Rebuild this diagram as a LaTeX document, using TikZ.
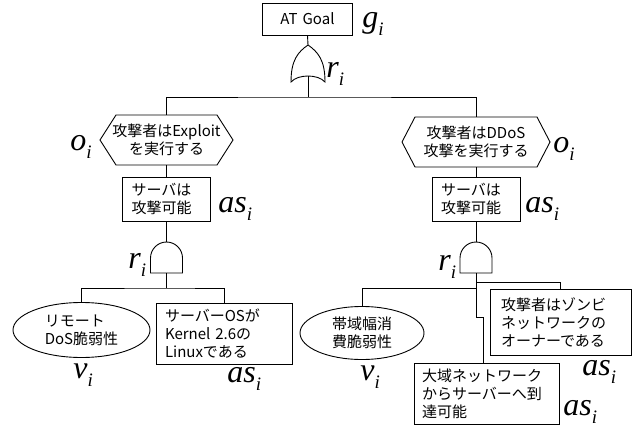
\documentclass[tikz,border=0pt]{standalone}
\usepackage{fontspec}
\newfontfamily\jp{Noto Sans CJK JP}
\font\lblbig="Liberation Serif/I" at 32pt
\font\lblsml="Liberation Serif/I" at 19pt
\usetikzlibrary{shapes.geometric}
\newcommand\lbl[2]{{\lblbig #1\raisebox{-8pt}{\lblsml #2}}}
\begin{document}
\begin{tikzpicture}[x=1pt,y=-1pt,line width=0.9pt,
  txt/.style={font=\jp\fontsize{15}{18}\selectfont},
  box/.style={txt,draw,rectangle,align=left,inner ysep=0pt},
  hexin/.style={txt,inner sep=0pt,minimum height=50pt,align=center},
  oval/.style={txt,draw,ellipse,inner sep=0pt,align=left},
  lab/.style={anchor=base west,inner sep=0pt}]
\useasboundingbox[fill=white] (0,0) rectangle (644,433);

% top goal
\node[box,align=center,text width=74pt,inner xsep=8pt,minimum height=32pt] (goal) at (307.5,19) {AT Goal};
\node[lab] (lg) at (362,28) {\lbl{g}{i}};

% OR gate
\coordinate (orT) at (308,45);
\coordinate (orB) at (308,76.5);
\coordinate (bar) at (308,97);
\draw (291,82) .. controls (291,60) and (298,52) .. (orT)
  .. controls (318,52) and (325,60) .. (325,82)
  .. controls (318,74) and (298,74) .. (291,82) -- cycle;
\node[lab] (lr0) at (326,78) {\lbl{r}{i}};
\draw (goal.south) -- (orT);

% hexagons
\node[hexin] (h1) at (166.5,140) {攻撃者はExploit\\を実行する};
\draw (h1.center) ++(-66.5,0) -- ++(16,-25) -- ++(101,0) -- ++(16,25) -- ++(-16,25) -- ++(-101,0) -- cycle;
\node[lab] (lo1) at (70,150) {\lbl{o}{i}};

\node[hexin] (h2) at (476,142) {攻撃者はDDoS\\攻撃を実行する};
\draw (h2.center) ++(-74,0) -- ++(13,-25) -- ++(122,0) -- ++(13,25) -- ++(-13,25) -- ++(-122,0) -- cycle;
\node[lab] (lo2) at (553,152) {\lbl{o}{i}};

\draw (orB) -- (bar);
\draw (h1.north) |- (bar) -| (h2.north);

% attack-state boxes
\node[box,text width=70pt,inner xsep=9pt,minimum height=44pt] (b1) at (166.5,199) {サーバは\\攻撃可能};
\node[lab] (la1) at (218,212) {\lbl{as}{i}};
\node[box,text width=70pt,inner xsep=9pt,minimum height=44pt] (b3) at (476,199) {サーバは\\攻撃可能};
\node[lab] (la3) at (525,212) {\lbl{as}{i}};
\draw (h1.south) -- (b1.north);
\draw (h2.south) -- (b3.north);

% left AND gate
\coordinate (aLT) at (166.5,242);
\coordinate (aLB) at (166.5,273);
\coordinate (barL) at (166.5,288);
\draw (150.5,273) -- (150.5,258) .. controls (150.5,249.2) and (157.7,242) .. (aLT)
  .. controls (175.3,242) and (182.5,249.2) .. (182.5,258) -- (182.5,273) -- cycle;
\node[lab] (lr1) at (128,268) {\lbl{r}{i}};
\draw (b1.south) -- (aLT);
\draw (aLB) -- (barL);

\node[oval,minimum width=137pt,minimum height=55pt] (e1) at (81.5,330) {リモート\\DoS脆弱性};
\node[lab] (lv1) at (73,378) {\lbl{v}{i}};
\node[box,text width=118pt,inner xsep=9pt,minimum height=61pt] (b2) at (224,333.5) {サーバーOSが\\Kernel 2.6の\\Linuxである};
\node[lab] (la2) at (227,382) {\lbl{as}{i}};
\draw (e1.north) |- (barL) -| (b2.north);

% right AND gate
\coordinate (aRT) at (476,242);
\coordinate (aRB) at (476,273);
\coordinate (barR) at (476,288);
\coordinate (brR) at (476,282);
\coordinate (jog) at (483,317);
\draw (460,273) -- (460,258) .. controls (460,249.2) and (467.2,242) .. (aRT)
  .. controls (484.8,242) and (492,249.2) .. (492,258) -- (492,273) -- cycle;
\node[lab] (lr2) at (438,270) {\lbl{r}{i}};
\draw (b3.south) -- (aRT);

\node[oval,minimum width=124pt,minimum height=53pt] (e2) at (362,333) {帯域幅消\\費脆弱性};
\node[lab] (lv2) at (360,380) {\lbl{v}{i}};
\node[box,text width=119pt,inner xsep=11pt,minimum height=66pt] (b4) at (560.5,322) {攻撃者はゾンビ\\ネットワークの\\オーナーである};
\node[lab] (la4) at (582,375) {\lbl{as}{i}};
\node[box,text width=129pt,inner xsep=8pt,minimum height=61pt] (b5) at (486.5,393.5) {大域ネットワーク\\からサーバーへ到\\達可能};
\node[lab] (la5) at (563,415) {\lbl{as}{i}};

\draw (aRB) |- (jog) -- (jog |- b5.north);
\draw (barR) -| (e2.north);
\draw (brR) -| (b4.north);
\end{tikzpicture}
\end{document}
